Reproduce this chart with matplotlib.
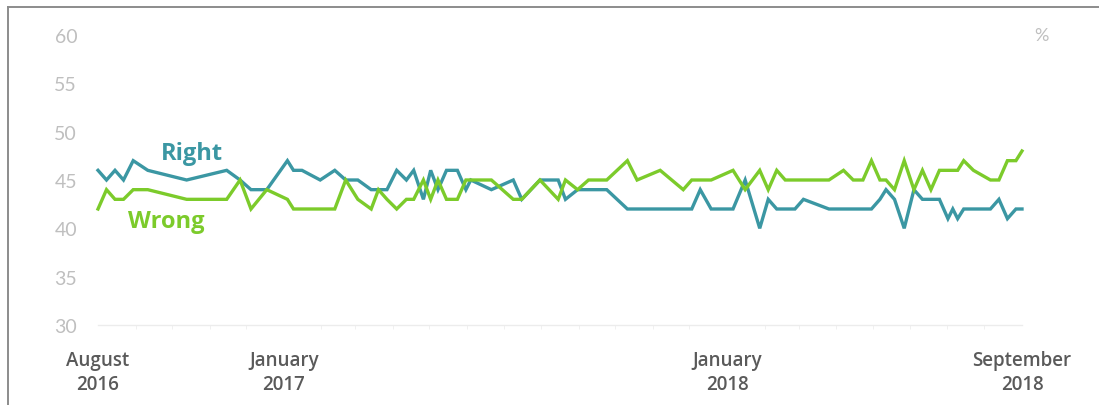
import matplotlib
matplotlib.use("Agg")
import matplotlib.pyplot as plt
import matplotlib.dates as mdates
from matplotlib.lines import Line2D
import pandas as pd

# ---------------- data ----------------
dates = [
    "2016-08-01", "2016-08-08", "2016-08-15", "2016-08-22", "2016-08-30",
    "2016-09-11", "2016-10-13", "2016-11-15", "2016-11-26", "2016-12-05",
    "2016-12-18", "2017-01-04", "2017-01-09", "2017-01-16", "2017-01-31",
    "2017-02-12", "2017-02-21", "2017-03-03", "2017-03-14", "2017-03-20",
    "2017-03-27", "2017-04-04", "2017-04-12", "2017-04-18", "2017-04-26",
    "2017-05-02", "2017-05-08", "2017-05-15", "2017-05-24", "2017-05-31",
    "2017-06-04", "2017-06-21", "2017-07-09", "2017-07-16", "2017-07-31",
    "2017-08-15", "2017-08-21", "2017-08-31", "2017-09-09", "2017-09-24",
    "2017-10-11", "2017-10-19", "2017-11-07", "2017-11-26", "2017-12-03",
    "2017-12-10", "2017-12-19", "2018-01-06", "2018-01-16", "2018-01-28",
    "2018-02-04", "2018-02-11", "2018-02-18", "2018-02-26", "2018-03-05",
    "2018-03-26", "2018-04-07", "2018-04-15", "2018-04-23", "2018-04-30",
    "2018-05-07", "2018-05-12", "2018-05-19", "2018-05-27", "2018-06-04",
    "2018-06-11", "2018-06-18", "2018-06-25", "2018-07-02", "2018-07-06",
    "2018-07-10", "2018-07-15", "2018-07-23", "2018-08-06", "2018-08-13",
    "2018-08-20", "2018-08-27", "2018-09-01",
]
right = [
    46, 45, 46, 45, 47,
    46, 45, 46, 45, 44,
    44, 47, 46, 46, 45,
    46, 45, 45, 44, 44,
    44, 46, 45, 46, 43,
    46, 44, 46, 46, 44,
    45, 44, 45, 43, 45,
    45, 43, 44, 44, 44,
    42, 42, 42, 42, 42,
    44, 42, 42, 45, 40,
    43, 42, 42, 42, 43,
    42, 42, 42, 42, 42,
    43, 44, 43, 40, 44,
    43, 43, 43, 41, 42,
    41, 42, 42, 42, 43,
    41, 42, 42,
]
wrong = [
    42, 44, 43, 43, 44,
    44, 43, 43, 45, 42,
    44, 43, 42, 42, 42,
    42, 45, 43, 42, 44,
    43, 42, 43, 43, 45,
    43, 45, 43, 43, 45,
    45, 45, 43, 43, 45,
    43, 45, 44, 45, 45,
    47, 45, 46, 44, 45,
    45, 45, 46, 44, 46,
    44, 46, 45, 45, 45,
    45, 46, 45, 45, 47,
    45, 45, 44, 47, 44,
    46, 44, 46, 46, 46,
    46, 47, 46, 45, 45,
    47, 47, 48,
]
y_ticks = [30, 35, 40, 45, 50, 55, 60]
x_tick_dates = ["2016-08-01", "2017-01-01", "2018-01-01", "2018-09-01"]
x_tick_labels = ["August\n2016", "January\n2017", "January\n2018", "September\n2018"]
series_labels = ["Right", "Wrong"]
label_pos = [("2016-10-17", 47.8), ("2016-09-26", 40.8)]

# ---------------- style ----------------
TEAL = "#3b97a3"
GREEN = "#7ccb2b"
FONT = ["Open Sans", "DejaVu Sans"]
LIGHT = ["Lato", "DejaVu Sans"]

x = pd.to_datetime(dates)

fig = plt.figure(figsize=(10.99, 4.06), dpi=100)
fig.patch.set_facecolor("white")

# outer frame (top and left edges visible in the reference)
fig.add_artist(Line2D([8 / 1099, 1], [1 - 8 / 406, 1 - 8 / 406], color="#8c8c8c", lw=1.4,
                      transform=fig.transFigure))
fig.add_artist(Line2D([8 / 1099, 8 / 1099], [0, 1 - 8 / 406], color="#8c8c8c", lw=1.4,
                      transform=fig.transFigure))

ax = fig.add_axes([98 / 1099, 80 / 406, (1022 - 98) / 1099, 290 / 406])

ax.plot(x, right, color=TEAL, lw=2.4, solid_joinstyle="miter", clip_on=False, zorder=3)
ax.plot(x, wrong, color=GREEN, lw=2.4, solid_joinstyle="miter", clip_on=False, zorder=4)

ax.set_ylim(30, 60)
ax.set_xlim(x[0], x[-1])

for s in ["top", "right", "left"]:
    ax.spines[s].set_visible(False)
ax.spines["bottom"].set_color("#ececec")
ax.spines["bottom"].set_linewidth(1.0)

ax.set_yticks(y_ticks)
ax.set_yticklabels([str(v) for v in y_ticks], family=LIGHT, fontsize=14,
                   color="#bfbfbf", fontweight="normal")
ax.tick_params(axis="y", length=0, pad=15)

ax.set_xticks(pd.to_datetime(x_tick_dates))
ax.set_xticklabels(x_tick_labels, family=FONT, fontsize=13.5, color="#5a5a5a",
                   fontweight="semibold", linespacing=1.3)
ax.tick_params(axis="x", length=0, pad=18)
ax.xaxis.set_minor_locator(mdates.MonthLocator())
ax.tick_params(axis="x", which="minor", length=3, color="#eeeeee", direction="out")

ax.text(1.0 + 19 / 924, 1.0, "%", transform=ax.transAxes, ha="center", va="center",
        family=LIGHT, fontsize=13, fontweight="normal", color="#bfbfbf")

for lab, (d, v), c in zip(series_labels, label_pos, [TEAL, GREEN]):
    ax.text(pd.to_datetime(d), v, lab, ha="center", va="center", family=FONT,
            fontsize=17, fontweight="bold", color=c)

fig.savefig("out.png", dpi=100, facecolor="white")
